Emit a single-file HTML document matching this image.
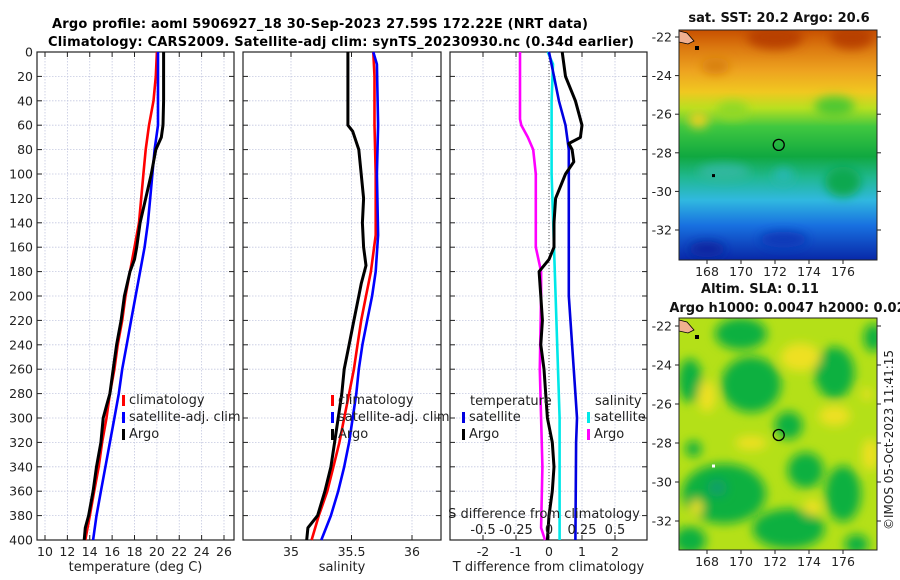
<!DOCTYPE html>
<html><head><meta charset="utf-8">
<style>
html,body{margin:0;padding:0;background:#fff;}
svg{display:block;font-family:"DejaVu Sans","Liberation Sans",sans-serif;}
</style></head>
<body>
<svg id="fig" width="900" height="580" viewBox="0 0 900 580" xmlns="http://www.w3.org/2000/svg">
<defs>
  <linearGradient id="sstGrad" x1="0" y1="0" x2="0" y2="1">
    <stop offset="0" stop-color="#c85000"/>
    <stop offset="0.08" stop-color="#dc7a10"/>
    <stop offset="0.18" stop-color="#eea420"/>
    <stop offset="0.27" stop-color="#f0c820"/>
    <stop offset="0.34" stop-color="#b8e020"/>
    <stop offset="0.42" stop-color="#40c840"/>
    <stop offset="0.55" stop-color="#10a840"/>
    <stop offset="0.64" stop-color="#20b890"/>
    <stop offset="0.74" stop-color="#30b8e0"/>
    <stop offset="0.85" stop-color="#1870e0"/>
    <stop offset="1" stop-color="#0828a8"/>
  </linearGradient>
  <filter id="blur6" x="-50%" y="-50%" width="200%" height="200%"><feGaussianBlur stdDeviation="5"/></filter>
  <clipPath id="clipTop"><rect x="679" y="30" width="198" height="230"/></clipPath>
  <clipPath id="clipBot"><rect x="679" y="318" width="198" height="232"/></clipPath>
</defs>
<text x="320" y="28" text-anchor="middle" font-size="13" font-weight="bold" textLength="536">Argo profile: aoml 5906927_18 30-Sep-2023 27.59S 172.22E (NRT data)</text>
<text x="341" y="46" text-anchor="middle" font-size="13" font-weight="bold" textLength="586">Climatology: CARS2009. Satellite-adj clim: synTS_20230930.nc (0.34d earlier)</text>
<g id="panels"></g>
<g id="maps"></g>
<text transform="translate(893,440) rotate(-90)" text-anchor="middle" font-size="12" fill="#222">©IMOS 05-Oct-2023 11:41:15</text>
</svg>
<script>
// ---------- data ----------
const depthTicks = [0,20,40,60,80,100,120,140,160,180,200,220,240,260,280,300,320,340,360,380,400];
const tempTicks = [10,12,14,16,18,20,22,24,26];
const salTicks = [35,35.5,36];
const salTickLabels = ["35","35.5","36"];
const tdiffTicks = [-2,-1,0,1,2];
const sdiffTicks = [-0.5,-0.25,0,0.25,0.5];
const sdiffTickLabels = ["-0.5","-0.25","0","0.25","0.5"];

const climTDepth = [0,20,40,60,80,100,120,140,160,180,200,220,240,260,280,300,320,340,360,380,400];
const climT = [20.0,19.9,19.7,19.3,19.0,18.8,18.6,18.4,18.0,17.6,17.2,16.9,16.5,16.2,15.8,15.5,15.1,14.8,14.4,14.0,13.6];
const satT = [20.1,20.1,20.1,20.1,19.8,19.6,19.4,19.2,18.9,18.5,18.1,17.7,17.3,16.9,16.6,16.2,15.8,15.4,15.0,14.6,14.3];
const argoTDepth = [0,20,40,60,70,80,100,120,140,160,170,180,200,220,240,260,280,290,300,320,340,360,380,390,400];
const argoT = [20.6,20.6,20.6,20.55,20.4,19.9,19.5,19.0,18.5,18.2,18.0,17.6,17.1,16.8,16.4,16.1,15.8,15.5,15.2,15.0,14.6,14.3,13.9,13.6,13.5];

const climSDepth = [0,20,60,100,150,180,200,220,240,260,280,300,320,340,360,380,400];
const climS = [35.68,35.69,35.69,35.70,35.70,35.66,35.62,35.58,35.55,35.52,35.48,35.44,35.40,35.35,35.30,35.23,35.17];
const satSDepth = [0,10,60,100,150,180,200,220,240,260,280,300,320,340,360,380,400];
const satS = [35.68,35.71,35.72,35.71,35.72,35.70,35.67,35.63,35.59,35.56,35.54,35.51,35.48,35.44,35.39,35.33,35.25];
const argoSDepth = [0,60,65,80,100,120,140,160,175,190,200,220,240,260,280,300,320,340,360,380,390,400];
const argoS = [35.47,35.47,35.51,35.56,35.58,35.60,35.59,35.60,35.62,35.58,35.56,35.52,35.48,35.44,35.42,35.39,35.36,35.33,35.28,35.22,35.14,35.13];

const tdSatDepth = [0,20,40,60,80,100,150,200,240,280,300,320,400];
const tdSat = [0.0,0.15,0.3,0.5,0.6,0.6,0.6,0.6,0.7,0.8,0.85,0.82,0.8];
const tdArgoDepth = [0,20,40,60,70,75,80,90,100,120,140,160,170,180,200,220,240,260,280,300,320,340,360,380,400];
const tdArgo = [0.4,0.5,0.8,1.0,0.95,0.6,0.7,0.75,0.5,0.2,0.15,0.15,0.0,-0.3,-0.25,-0.2,-0.25,-0.15,-0.1,-0.05,0.1,0.15,0.1,0.0,-0.05];
const sdSatDepth = [0,10,40,100,200,300,400];
const sdSat = [-0.01,0.03,0.02,0.02,0.05,0.08,0.08];
const sdArgoDepth = [0,55,60,70,80,100,160,180,200,260,300,340,390,400];
const sdArgo = [-0.22,-0.22,-0.21,-0.16,-0.12,-0.1,-0.1,-0.06,-0.06,-0.07,-0.06,-0.05,-0.06,-0.03];

const lonTicks = [168,170,172,174,176];
const latTicks = [-22,-24,-26,-28,-30,-32];
const floatLon = 172.22, floatLat = -27.59;

// ---------- helpers ----------
const NS = "http://www.w3.org/2000/svg";
function mk(tag, attrs, parent){const e=document.createElementNS(NS,tag);for(const k in attrs)e.setAttribute(k,attrs[k]);parent.appendChild(e);return e;}
function lin(d0,d1,r0,r1){return v=>r0+(v-d0)/(d1-d0)*(r1-r0);}
const yTop=52, yBot=540;
const yD = lin(0,400,yTop,yBot);
const panels = document.getElementById('panels');

function axesBox(x0,x1,name,xticks,xfn,xlabels,xtitle,showY){
  const g=mk('g',{},panels);
  
  
  depthTicks.forEach(d=>{
    const y=yD(d);
    mk('line',{x1:x0,x2:x1,y1:y,y2:y,stroke:'#c4c8e0','stroke-width':0.8,'stroke-dasharray':'1.5,1.5'},g);
    mk('line',{x1:x0,x2:x0+5,y1:y,y2:y,stroke:'#222'},g);
    mk('line',{x1:x1-5,x2:x1,y1:y,y2:y,stroke:'#222'},g);
    if(showY){const t=mk('text',{x:x0-4,y:y+4.5,'text-anchor':'end','font-size':12.5,fill:'#222'},g);t.textContent=d;
      
      }
  });
  xticks.forEach((v,i)=>{
    const x=xfn(v);
    mk('line',{x1:x,x2:x,y1:yTop,y2:yBot,stroke:'#c4c8e0','stroke-width':0.8,'stroke-dasharray':'1.5,1.5'},g);
    mk('line',{x1:x,x2:x,y1:yBot,y2:yBot-5,stroke:'#222'},g);
    mk('line',{x1:x,x2:x,y1:yTop,y2:yTop+5,stroke:'#222'},g);
    if(xlabels){const t=mk('text',{x:x,y:556,'text-anchor':'middle','font-size':12.5,fill:'#222'},g);t.textContent=xlabels[i];
      
      }
  });
  mk('rect',{x:x0,y:yTop,width:x1-x0,height:yBot-yTop,fill:'none',stroke:'#222','stroke-width':1.2},g);
  const tt=mk('text',{x:(x0+x1)/2,y:571,'text-anchor':'middle','font-size':13,fill:'#222'},g);tt.textContent=xtitle;
  
  
  return g;
}
function line(g,xs,ds,xfn,color,name,w){
  const pts=xs.map((v,i)=>xfn(v).toFixed(1)+','+yD(ds[i]).toFixed(1)).join(' ');
  const p=mk('polyline',{points:pts,fill:'none',stroke:color,'stroke-width':w||2.6,'stroke-linejoin':'round'},g);
  
  
}
function legend(g,x,y,items){
  items.forEach((it,i)=>{
    mk('rect',{x:x,y:y+i*17-9,width:3,height:11,fill:it[1]},g);
    const t=mk('text',{x:x+7,y:y+i*17,'font-size':13,fill:'#222'},g);t.textContent=it[0];
    
    
  });
}

// Panel 1 temperature
const xT = lin(10,26,45,224);
const g1 = axesBox(37,234,'temperature-panel',tempTicks,xT,tempTicks.map(String),'temperature (deg C)',true);
line(g1,climT,climTDepth,xT,'#ff0000','climatology-temp-line');
line(g1,satT,climTDepth,xT,'#0000ff','satellite-temp-line');
line(g1,argoT,argoTDepth,xT,'#000000','argo-temp-line',3);
legend(g1,122,404,[['climatology','#ff0000'],['satellite-adj. clim','#0000ff'],['Argo','#000']]);

// Panel 2 salinity
const xS = lin(35,36,291,412);
const g2 = axesBox(243,441,'salinity-panel',salTicks,xS,salTickLabels,'salinity',false);
line(g2,climS,climSDepth,xS,'#ff0000','climatology-salinity-line');
line(g2,satS,satSDepth,xS,'#0000ff','satellite-salinity-line');
line(g2,argoS,argoSDepth,xS,'#000000','argo-salinity-line',3);
legend(g2,331,404,[['climatology','#ff0000'],['satellite-adj. clim','#0000ff'],['Argo','#000']]);

// Panel 3 differences
const xTd = lin(-2,2,483,615);
const xSd = v=>xTd(v*4);
const g3 = axesBox(450,647,'difference-panel',tdiffTicks,xTd,tdiffTicks.map(String),'T difference from climatology',false);
mk('line',{x1:xTd(0),x2:xTd(0),y1:yTop,y2:yBot,stroke:'#555','stroke-width':1,'stroke-dasharray':'1,2'},g3);
line(g3,sdSat,sdSatDepth,xSd,'#00e8e8','satellite-sdiff-line');
line(g3,sdArgo,sdArgoDepth,xSd,'#ff00ff','argo-sdiff-line');
line(g3,tdSat,tdSatDepth,xTd,'#0000e0','satellite-tdiff-line');
line(g3,tdArgo,tdArgoDepth,xTd,'#000000','argo-tdiff-line',3);
{const t=mk('text',{x:470,y:405,'font-size':13,fill:'#222'},g3);t.textContent='temperature';
 
 
 const t2=mk('text',{x:595,y:405,'font-size':13,fill:'#222'},g3);t2.textContent='salinity';
 
 }
legend(g3,462,421,[['satellite','#0000e0'],['Argo','#000']]);
legend(g3,587,421,[['satellite','#00e8e8'],['Argo','#ff00ff']]);
{const t=mk('text',{x:544,y:518,'text-anchor':'middle','font-size':13,fill:'#222'},g3);t.textContent='S difference from climatology';
 
 }
sdiffTicks.forEach((v,i)=>{const t=mk('text',{x:xSd(v),y:534,'text-anchor':'middle','font-size':13,fill:'#222'},g3);t.textContent=sdiffTickLabels[i];
 
 });

// ---------- maps ----------
const maps=document.getElementById('maps');
const xLon = lin(168,176,707,843);
function drawMap(y0,y1,lat22y,lat32y,clip,name,title,kind){
  const yLat = lin(-22,-32,lat22y,lat32y);
  const g=mk('g',{},maps);
  
  
  const inner=mk('g',{'clip-path':'url(#'+clip+')'},g);
  if(kind==='sst'){
    mk('rect',{x:679,y:y0,width:198,height:y1-y0,fill:'url(#sstGrad)'},inner);
    const bl=mk('g',{filter:'url(#blur6)'},inner);
    mk('ellipse',{cx:xLon(172),cy:yLat(-22),rx:28,ry:12,fill:'#b84000'},bl);
    mk('ellipse',{cx:xLon(176.5),cy:yLat(-22),rx:22,ry:12,fill:'#b84000'},bl);
    mk('ellipse',{cx:xLon(168.5),cy:yLat(-23.5),rx:14,ry:8,fill:'#d88010'},bl);
    mk('ellipse',{cx:xLon(169.5),cy:yLat(-25.8),rx:16,ry:9,fill:'#90d828'},bl);
    mk('ellipse',{cx:xLon(175.5),cy:yLat(-25.6),rx:20,ry:10,fill:'#50c830'},bl);
    mk('ellipse',{cx:xLon(167.5),cy:yLat(-26.3),rx:10,ry:8,fill:'#e8d020'},bl);
    mk('ellipse',{cx:xLon(169),cy:yLat(-29),rx:26,ry:8,fill:'#30b8a0'},bl);
    mk('ellipse',{cx:xLon(172.5),cy:yLat(-29.2),rx:10,ry:8,fill:'#28b8b0'},bl);
    mk('ellipse',{cx:xLon(176),cy:yLat(-29.5),rx:18,ry:15,fill:'#10a850'},bl);
    mk('ellipse',{cx:xLon(172.5),cy:yLat(-32.5),rx:24,ry:8,fill:'#0838b8'},bl);
    mk('ellipse',{cx:xLon(168),cy:yLat(-33),rx:18,ry:8,fill:'#0828a0'},bl);
  } else {
    mk('rect',{x:679,y:y0,width:198,height:y1-y0,fill:'#b4e018'},inner);
    const bl=mk('g',{filter:'url(#blur6)'},inner);
    const greens=[[170,-22.4,26,16],[170.6,-25,30,28],[167,-24.8,12,22],[175.5,-24.4,20,26],[177.8,-22.6,10,14],[172.8,-27.1,14,14],[169,-30.6,42,30],[172.8,-32.4,36,20],[176,-30.6,18,28],[173.8,-29.4,18,18],[167,-33,16,14],[176.8,-33.2,12,10],[167.2,-28.3,8,8]];
    greens.forEach(e=>mk('ellipse',{cx:xLon(e[0]),cy:yLat(e[1]),rx:e[2],ry:e[3],fill:'#10b040'},bl));
    const yell=[[173.5,-23.6,20,14],[168,-25.6,9,16],[175.5,-26.6,16,10],[177.6,-28.6,8,16],[174.2,-31.3,9,8],[170.6,-28,16,7],[167.4,-31.3,6,8],[177.4,-25.5,5,6]];
    yell.forEach(e=>mk('ellipse',{cx:xLon(e[0]),cy:yLat(e[1]),rx:e[2],ry:e[3],fill:'#eee020'},bl));
    mk('ellipse',{cx:xLon(168.6),cy:yLat(-30.3),rx:10,ry:9,fill:'#10a068',filter:'url(#blur6)'},inner);
  }
  mk('path',{d:`M679 ${lat22y-6} l8 2 l7 8 l-6 3 l-9 -2 z`,fill:'#f0b090',stroke:'#000','stroke-width':0.8},inner);
  mk('rect',{x:695,y:lat22y+9,width:4,height:4,fill:'#000'},inner);
  mk('rect',{x:712,y:yLat(-29)+2,width:3,height:3,fill:kind==='sst'?'#000':'#fff'},inner);
  const c=mk('circle',{cx:xLon(floatLon),cy:yLat(floatLat),r:5.5,fill:'none',stroke:'#000','stroke-width':1.3},g);
  
  
  mk('rect',{x:679,y:y0,width:198,height:y1-y0,fill:'none',stroke:'#222','stroke-width':1},g);
  lonTicks.forEach(v=>{const x=xLon(v);
    mk('line',{x1:x,x2:x,y1:y1,y2:y1+4,stroke:'#222'},g);
    const t=mk('text',{x:x,y:y1+16,'text-anchor':'middle','font-size':12.5,fill:'#222'},g);t.textContent=v;
    
    });
  latTicks.forEach(v=>{const y=yLat(v);
    mk('line',{x1:675,x2:679,y1:y,y2:y,stroke:'#222'},g);
    mk('line',{x1:877,x2:881,y1:y,y2:y,stroke:'#222'},g);
    const t=mk('text',{x:672,y:y+4.5,'text-anchor':'end','font-size':12.5,fill:'#222'},g);t.textContent=v;
    
    });
  title.forEach((s,i)=>{const t=mk('text',{x:s[1],y:s[2],'text-anchor':'middle','font-size':13,'font-weight':'bold',fill:'#111'},g);t.textContent=s[0];
    
    });
}
drawMap(30,260,37,230,'clipTop','sst-map',[['sat. SST: 20.2  Argo: 20.6',779,22]],'sst');
drawMap(318,550,326,521,'clipBot','sla-map',[['Altim. SLA: 0.11',760,293],['Argo h1000: 0.0047 h2000: 0.026',792,312]],'sla');
</script>
</body></html>
